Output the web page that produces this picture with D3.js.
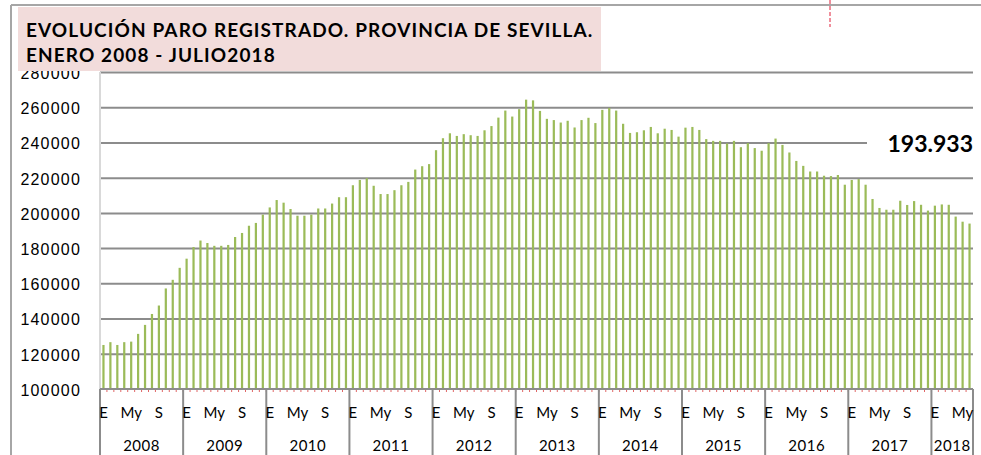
<!DOCTYPE html>
<html>
<head>
<meta charset="utf-8">
<script src="https://cdn.jsdelivr.net/npm/d3@7"></script>
<style>
  body { margin: 0; background: #fff; }
  svg { display: block; font-family: Lato, "Open Sans", sans-serif; }
</style>
</head>
<body>
<div id="grafico"></div>
<script>
// Paro registrado, provincia de Sevilla (mensual, enero 2008 - 2018)
const years = ["2008", "2009", "2010", "2011", "2012", "2013", "2014", "2015", "2016", "2017", "2018"];
const monthLabels = ["E", "My", "S"];      // enero, mayo, septiembre
const monthLabelIdx = [0, 4, 8];
const yTicks = [100000, 120000, 140000, 160000, 180000, 200000, 220000, 240000, 260000, 280000];

const paro2008 = [125000, 126600, 125000, 126600, 126900, 131300, 136400, 142600, 147400, 157100, 162000, 168800];
const paro2009 = [174000, 180600, 184300, 182900, 181300, 181300, 181800, 186300, 188600, 192700, 194300, 199000];
const paro2010 = [203100, 207300, 205800, 202200, 198400, 198400, 199000, 202500, 202500, 205300, 208900, 208900];
const paro2011 = [215700, 218700, 219700, 215400, 210700, 210700, 212900, 215700, 217600, 224600, 226500, 227700];
const paro2012 = [235600, 242400, 245200, 243700, 244700, 244100, 243700, 246900, 249300, 254100, 258100, 254700];
const paro2013 = [258900, 264300, 263900, 257900, 253400, 252700, 251300, 252300, 248500, 252700, 254000, 251000];
const paro2014 = [258500, 259600, 258100, 250600, 245400, 245800, 246900, 248800, 245200, 247800, 247100, 243300];
const paro2015 = [248400, 248800, 247100, 241900, 240900, 240900, 239400, 240900, 237300, 239600, 236800, 235300];
const paro2016 = [239600, 242200, 238600, 234300, 229500, 226700, 223500, 223500, 221100, 220900, 221500, 216000];
const paro2017 = [218700, 219200, 216000, 207900, 202800, 201800, 201800, 206900, 204500, 206700, 204600, 201300];
const paro2018 = [204100, 204800, 204600, 197900, 195000, 193933];

const ultimoValor = "193.933";

const serie = [paro2008, paro2009, paro2010, paro2011, paro2012, paro2013,
               paro2014, paro2015, paro2016, paro2017, paro2018];

const datos = [];
serie.forEach((valores, y) => {
    valores.forEach((v, m) => datos.push({ year: y, month: m, value: v }));
});

dibujarGrafico();

function dibujarGrafico() {
    const width = 981;
    const height = 455;
    const left = 100, right = 973, top = 72, bottom = 389;

    const svg = d3.select("#grafico")
        .append("svg")
        .attr("width", width)
        .attr("height", height);

    // marco exterior
    svg.append("line").attr("x1", 11).attr("x2", width).attr("y1", 5).attr("y2", 5)
        .attr("stroke", "#a6a6a6").attr("stroke-width", 2);
    svg.append("line").attr("x1", 11).attr("x2", 11).attr("y1", 5).attr("y2", height)
        .attr("stroke", "#a6a6a6").attr("stroke-width", 2);

    // escalas
    const xScale = d3.scaleBand()
        .domain(d3.range(datos.length))
        .range([left, right])
        .paddingInner(0.68)
        .paddingOuter(0.34);
    const step = xScale.step();

    const yScale = d3.scaleLinear()
        .domain([100000, 280000])
        .range([bottom, top]);

    // lineas de cuadricula + etiquetas eje y
    const yAxis = svg.append("g")
        .attr("transform", `translate(${left},0)`)
        .call(d3.axisLeft(yScale).tickValues(yTicks).tickSize(-(right - left)).tickPadding(20).tickFormat(d3.format("d")));
    yAxis.select(".domain").remove();
    yAxis.selectAll(".tick line")
        .attr("stroke", d => d === 100000 ? "none" : "#8c8c8c")
        .attr("stroke-width", 2);
    yAxis.selectAll(".tick text")
        .attr("fill", "#000")
        .style("font-size", "16px")
        .style("letter-spacing", "1.2px")
        .attr("x", -19)
        .attr("dy", "0.4em");

    // borde izquierdo del area de trazado
    svg.append("line").attr("x1", left).attr("x2", left).attr("y1", top).attr("y2", bottom)
        .attr("stroke", "#d9d9d9").attr("stroke-width", 2);

    // barras
    svg.selectAll(".bar-paro")
        .data(datos)
        .enter().append("rect")
        .attr("class", "bar-paro")
        .attr("x", (d, i) => xScale(i))
        .attr("y", d => yScale(d.value))
        .attr("width", xScale.bandwidth())
        .attr("height", d => bottom - yScale(d.value))
        .attr("fill", "#9bbb59");

    // eje x
    svg.append("line").attr("x1", left).attr("x2", right).attr("y1", bottom).attr("y2", bottom)
        .attr("stroke", "#8c8c8c").attr("stroke-width", 2);

    // marcas rojas pequeñas entre meses
    svg.selectAll(".marca")
        .data(d3.range(1, datos.length))
        .enter().append("line")
        .attr("x1", i => left + i * step).attr("x2", i => left + i * step)
        .attr("y1", bottom + 1).attr("y2", bottom + 3)
        .attr("stroke", "#e06666").attr("stroke-width", 1);

    // separadores de años
    const inicios = [];
    let acc = 0;
    serie.forEach(v => { inicios.push(acc); acc += v.length; });
    inicios.push(acc);

    svg.selectAll(".sep-anio")
        .data(inicios)
        .enter().append("line")
        .attr("x1", i => left + i * step).attr("x2", i => left + i * step)
        .attr("y1", bottom).attr("y2", height)
        .attr("stroke", "#8c8c8c").attr("stroke-width", 2);

    // etiquetas de meses
    serie.forEach((valores, y) => {
        monthLabelIdx.forEach((m, k) => {
            if (m >= valores.length) return;
            const idx = inicios[y] + m;
            svg.append("text")
                .attr("x", xScale(idx) + xScale.bandwidth() / 2)
                .attr("y", 418)
                .attr("text-anchor", "middle")
                .style("font-size", "15px")
                .text(monthLabels[k]);
        });
    });

    // etiquetas de años
    svg.selectAll(".anio")
        .data(years)
        .enter().append("text")
        .attr("x", (d, y) => left + (inicios[y] + inicios[y + 1]) / 2 * step)
        .attr("y", 451)
        .attr("text-anchor", "middle")
        .style("font-size", "15px")
        .style("letter-spacing", "0.5px")
        .text(d => d);

    // titulo
    svg.append("rect").attr("x", 18).attr("y", 7).attr("width", 583).attr("height", 64)
        .attr("fill", "#f2dcdb");
    svg.append("text").attr("x", 26).attr("y", 37)
        .style("font-size", "19px").style("font-weight", "bold").style("letter-spacing", "1.1px")
        .text("EVOLUCIÓN PARO REGISTRADO. PROVINCIA DE SEVILLA.");
    svg.append("text").attr("x", 26).attr("y", 62)
        .style("font-size", "19px").style("font-weight", "bold").style("letter-spacing", "1.1px")
        .text("ENERO 2008 - JULIO2018");

    // ultimo valor
    svg.append("rect").attr("x", 867).attr("y", 128).attr("width", 110).attr("height", 30)
        .attr("fill", "#fff");
    svg.append("text").attr("x", 973).attr("y", 152)
        .attr("text-anchor", "end")
        .style("font-size", "23px").style("font-weight", "bold")
        .text(ultimoValor);

    // linea roja discontinua arriba
    svg.append("line").attr("x1", 830).attr("x2", 830).attr("y1", 0).attr("y2", 27)
        .attr("stroke", "#e0203a").attr("stroke-width", 1).attr("stroke-dasharray", "4,2");
}
</script>
</body>
</html>
